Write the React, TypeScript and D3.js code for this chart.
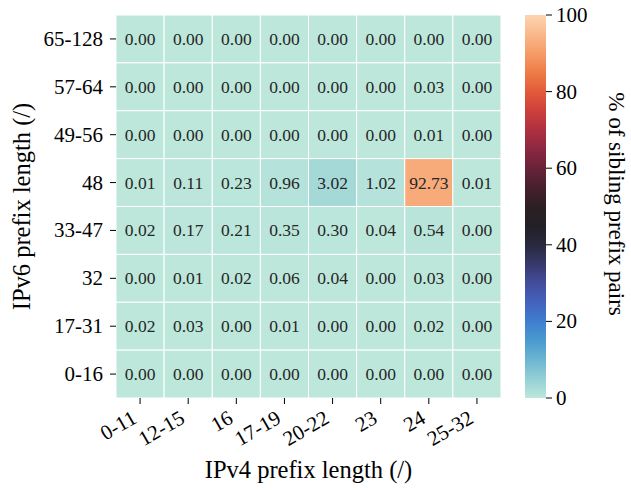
import React from "react";
import * as d3 from "d3";

const ipv4Labels = ["0-11", "12-15", "16", "17-19", "20-22", "23", "24", "25-32"];
const ipv6Labels = ["65-128", "57-64", "49-56", "48", "33-47", "32", "17-31", "0-16"];
const row65_128 = [0, 0, 0, 0, 0, 0, 0, 0];
const row57_64 = [0, 0, 0, 0, 0, 0, 0.03, 0];
const row49_56 = [0, 0, 0, 0, 0, 0, 0.01, 0];
const row48 = [0.01, 0.11, 0.23, 0.96, 3.02, 1.02, 92.73, 0.01];
const row33_47 = [0.02, 0.17, 0.21, 0.35, 0.3, 0.04, 0.54, 0.0];
const row32 = [0.0, 0.01, 0.02, 0.06, 0.04, 0.0, 0.03, 0.0];
const row17_31 = [0.02, 0.03, 0.0, 0.01, 0.0, 0.0, 0.02, 0.0];
const row0_16 = [0, 0, 0, 0, 0, 0, 0, 0];
const rows = [row65_128, row57_64, row49_56, row48, row33_47, row32, row17_31, row0_16];
const cbTicks = [0, 20, 40, 60, 80, 100];

const icefireStops = [
  "#bde7db", "#8ccbd4", "#5dabcf", "#3a8cd2", "#4268c9", "#474fa4", "#363867",
  "#232330", "#1f1e1e", "#3a1f27", "#5f2236", "#8a2646", "#b4303f", "#d7433a",
  "#ea6a36", "#f4935c", "#f8b283", "#fdd5b2",
];
const interp = d3.interpolateRgbBasis(icefireStops);

const W = 631, H = 491;
const L = 116, R = 501, T = 15, B = 398;
const font = "Liberation Serif";

export default function App() {
  const x = d3.scaleBand<string>().domain(ipv4Labels).range([L, R]);
  const y = d3.scaleBand<string>().domain(ipv6Labels).range([T, B]);
  const color = d3.scaleSequential(interp).domain([0, 100]);
  const cbX = 525, cbW = 21;
  const cbY = d3.scaleLinear().domain([0, 100]).range([B, T]);
  const gradStops = d3.range(0, 1.0001, 0.05);
  const textColor = (v: number) => {
    const rgb = d3.rgb(color(v));
    const lum = 0.2126 * rgb.r + 0.7152 * rgb.g + 0.0722 * rgb.b;
    return lum > 100 ? "#262626" : "#ffffff";
  };
  return (
    <svg width={W} height={H} style={{ position: "absolute", left: 0, top: 0, fontFamily: font }}>
      <defs>
        <linearGradient id="cb" x1="0" y1="1" x2="0" y2="0">
          {gradStops.map((s) => (
            <stop key={s} offset={s} stopColor={interp(s)} />
          ))}
        </linearGradient>
      </defs>
      {rows.map((row, ri) =>
        row.map((v, ci) => (
          <g key={`${ri}-${ci}`}>
            <rect
              x={x(ipv4Labels[ci])}
              y={y(ipv6Labels[ri])}
              width={x.bandwidth()}
              height={y.bandwidth()}
              fill={color(v)}
              stroke="#ffffff"
              strokeWidth={1}
            />
            <text
              x={(x(ipv4Labels[ci]) as number) + x.bandwidth() / 2}
              y={(y(ipv6Labels[ri]) as number) + y.bandwidth() / 2 + 6}
              textAnchor="middle"
              fontSize={17.5}
              fill={textColor(v)}
            >
              {v.toFixed(2)}
            </text>
          </g>
        ))
      )}
      {ipv6Labels.map((lab) => {
        const cy = (y(lab) as number) + y.bandwidth() / 2;
        return (
          <g key={lab}>
            <line x1={L - 6} x2={L} y1={cy} y2={cy} stroke="#000" strokeWidth={1} />
            <text x={L - 13} y={cy + 7} textAnchor="end" fontSize={21}>
              {lab}
            </text>
          </g>
        );
      })}
      {ipv4Labels.map((lab) => {
        const cx = (x(lab) as number) + x.bandwidth() / 2;
        return (
          <g key={lab}>
            <line x1={cx} x2={cx} y1={B} y2={B + 6} stroke="#000" strokeWidth={1} />
            <text
              transform={`translate(${cx - 2},${B + 24}) rotate(-30)`}
              textAnchor="end"
              fontSize={21}
            >
              {lab}
            </text>
          </g>
        );
      })}
      <text x={(L + R) / 2} y={478} textAnchor="middle" fontSize={24.5}>
        IPv4 prefix length (/)
      </text>
      <text transform={`translate(30,${(T + B) / 2}) rotate(-90)`} textAnchor="middle" fontSize={24.5}>
        IPv6 prefix length (/)
      </text>
      <rect x={cbX} y={T} width={cbW} height={B - T} fill="url(#cb)" />
      {cbTicks.map((t) => (
        <g key={t}>
          <line x1={cbX + cbW} x2={cbX + cbW + 6} y1={cbY(t)} y2={cbY(t)} stroke="#000" strokeWidth={1} />
          <text x={cbX + cbW + 10} y={cbY(t) + 7} fontSize={21}>
            {t}
          </text>
        </g>
      ))}
      <text transform={`translate(609,204) rotate(90)`} textAnchor="middle" fontSize={23}>
        % of sibling prefix pairs
      </text>
    </svg>
  );
}
